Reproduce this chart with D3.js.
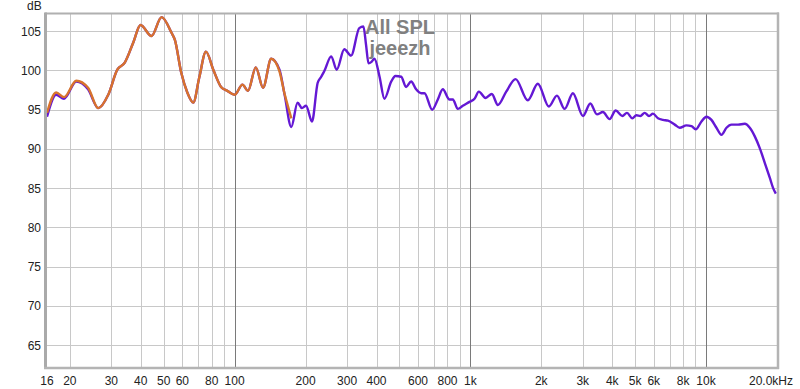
<!DOCTYPE html>
<html>
<head>
<meta charset="utf-8">
<script src="https://cdn.jsdelivr.net/npm/d3@7"></script>
<style>
  html, body { margin: 0; padding: 0; background: #ffffff; }
  svg { display: block; }
</style>
</head>
<body>
<svg id="chart" width="800" height="389"></svg>
<script>
// ---- data ----
const purpleFreq = [16,17.5,18.9,21.3,23.9,26.4,29.1,31.8,34.2,37.1,39.9,44.4,49,54,55.8,59.4,63,66.8,70.8,75.6,81.2,87.6,93.1,100,108,114,123,132,143,155,163,174,185,193,201,213,225,233,240,257,271,292,312,338,352,361,370,381,392,412,432,462,481,509,534,561,589,619,639,689,728,764,816,843,885,929,992,1042,1087,1160,1234,1309,1420,1556,1754,1934,2154,2330,2512,2724,3004,3229,3445,3652,3900,4137,4416,4619,4869,5064,5265,5491,5728,5955,6254,6568,6897,7365,7733,8258,8670,9044,9561,10040,10540,11070,11630,12210,12820,13670,14600,15330,16100,16900,17760,18650,19260,19770];
const purpleDb = [94.1,96.9,96.4,98.6,97.6,95.2,96.9,100.1,101.0,103.5,105.8,104.4,106.8,104.8,103.9,99.7,97.2,95.9,99.1,102.4,100.1,97.9,97.4,96.9,98.2,97.4,100.4,97.8,101.5,100.1,96.9,92.8,95.9,95.2,95.5,93.5,98.4,99.2,99.9,101.8,100.1,102.7,101.9,105.4,105.6,103.3,100.9,101.1,101.5,99.2,96.4,98.6,99.3,99.2,97.9,98.6,97.6,97.1,97.1,95.0,96.3,97.6,96.3,96.3,95.1,95.5,96.0,96.4,97.3,96.5,97.0,95.6,97.3,98.9,96.2,98.3,95.4,96.8,95.1,97.1,94.2,95.8,94.4,94.7,93.8,94.9,94.2,94.6,93.9,94.3,94.2,94.6,94.2,94.5,93.9,93.7,93.6,93.1,92.7,93.0,92.9,92.5,93.5,94.1,93.7,92.7,91.8,92.7,93.1,93.1,93.2,92.7,91.6,90.1,88.2,86.3,85.0,84.3];

const orangeFreq = [16,17.5,18.9,21.3,23.9,26.4,29.1,31.8,34.2,37.1,39.9,44.4,49,54,55.8,59.4,63,66.8,70.8,75.6,81.2,87.6,93.1,100,108,114,123,132,143,155,163,170,174];
const orangeDb = [94.6,97.2,96.6,98.7,97.8,95.2,96.9,100.1,101.0,103.5,105.8,104.4,106.8,104.8,103.9,99.7,97.2,95.9,99.1,102.4,100.1,97.9,97.4,96.9,98.2,97.4,100.4,97.8,101.5,99.9,97.0,95.0,93.9];

const yTicks = [65,70,75,80,85,90,95,100,105];
const xGrid = [20,30,40,50,60,70,80,90,100,200,300,400,500,600,700,800,900,1000,2000,3000,4000,5000,6000,7000,8000,9000,10000];
const xMajor = [100,1000,10000];
const xTickValues = [16,20,30,40,50,60,80,100,200,300,400,600,800,1000,2000,3000,4000,5000,6000,8000,10000];
const xTickLabels = ["16","20","30","40","50","60","80","100","200","300","400","600","800","1k","2k","3k","4k","5k","6k","8k","10k"];
const lastLabel = "20.0kHz";
const titleLines = ["All SPL","jeeezh"];
const yUnit = "dB";

// ---- layout ----
const L = 47, R = 777, T = 14, B = 367;
const svg = d3.select("#chart");
const x = d3.scaleLog().domain([16, 20000]).range([L, R]);
const y = d3.scaleLinear().domain([62.2, 107.2]).range([B, T]);
const font = "'Liberation Sans', Arial, sans-serif";

// grid
const g = svg.append("g");
g.selectAll("line.h").data(yTicks).enter().append("line")
  .attr("x1", L).attr("x2", R)
  .attr("y1", d => Math.round(y(d)) + 0.5).attr("y2", d => Math.round(y(d)) + 0.5)
  .attr("stroke", "#c8c8c8").attr("stroke-width", 1);
g.selectAll("line.v").data(xGrid).enter().append("line")
  .attr("x1", d => Math.round(x(d)) + 0.5).attr("x2", d => Math.round(x(d)) + 0.5)
  .attr("y1", T).attr("y2", B)
  .attr("stroke", d => xMajor.includes(d) ? "#7a7a7a" : "#c8c8c8").attr("stroke-width", 1);

// frame
svg.append("line").attr("x1", L - 2).attr("x2", R + 2).attr("y1", T - 0.5).attr("y2", T - 0.5)
  .attr("stroke", "#b0b0b0").attr("stroke-width", 2);
svg.append("line").attr("x1", L - 1.5).attr("x2", L - 1.5).attr("y1", T - 1.5).attr("y2", B + 1)
  .attr("stroke", "#aaaaaa").attr("stroke-width", 3);
svg.append("line").attr("x1", R + 1).attr("x2", R + 1).attr("y1", T - 1.5).attr("y2", B + 2)
  .attr("stroke", "#b4b4b4").attr("stroke-width", 2.5);
svg.append("line").attr("x1", L - 3).attr("x2", R + 2).attr("y1", B + 1).attr("y2", B + 1)
  .attr("stroke", "#b4b4b4").attr("stroke-width", 2.5);

// y axis labels
svg.selectAll("text.yl").data(yTicks).enter().append("text")
  .attr("x", 41).attr("y", d => y(d) + 4.5)
  .attr("text-anchor", "end").attr("font-family", font).attr("font-size", 12)
  .attr("fill", "#222").text(d => d);
svg.append("text").attr("x", 27).attr("y", 10).attr("font-family", font)
  .attr("font-size", 12).attr("fill", "#222").text(yUnit);

// x axis labels
svg.selectAll("text.xl").data(xTickValues).enter().append("text")
  .attr("x", d => x(d)).attr("y", 385)
  .attr("text-anchor", "middle").attr("font-family", font).attr("font-size", 12)
  .attr("fill", "#222").text((d, i) => xTickLabels[i]);
svg.append("text").attr("x", 793).attr("y", 385).attr("text-anchor", "end")
  .attr("font-family", font).attr("font-size", 12).attr("fill", "#222").text(lastLabel);

// curves
const clip = svg.append("clipPath").attr("id", "clip").append("rect")
  .attr("x", L).attr("y", T).attr("width", R - L).attr("height", B - T);
const line = d3.line().x(d => x(d[0])).y(d => y(d[1])).curve(d3.curveMonotoneX);
const purple = purpleFreq.map((f, i) => [f, purpleDb[i]]);
const orange = orangeFreq.map((f, i) => [f, orangeDb[i]]);
svg.append("path").datum(purple).attr("d", line).attr("fill", "none")
  .attr("stroke", "#6418d4").attr("stroke-width", 2.4).attr("stroke-linejoin", "round")
  .attr("clip-path", "url(#clip)");
svg.append("path").datum(orange).attr("d", line).attr("fill", "none")
  .attr("stroke", "#d8732c").attr("stroke-width", 2.4).attr("stroke-linejoin", "round")
  .attr("clip-path", "url(#clip)");

// title
svg.selectAll("text.title").data(titleLines).enter().append("text")
  .attr("x", 400).attr("y", (d, i) => 34 + i * 21)
  .attr("text-anchor", "middle").attr("font-family", font).attr("font-weight", "bold")
  .attr("font-size", 20).attr("fill", "#808080").text(d => d);
</script>
</body>
</html>
